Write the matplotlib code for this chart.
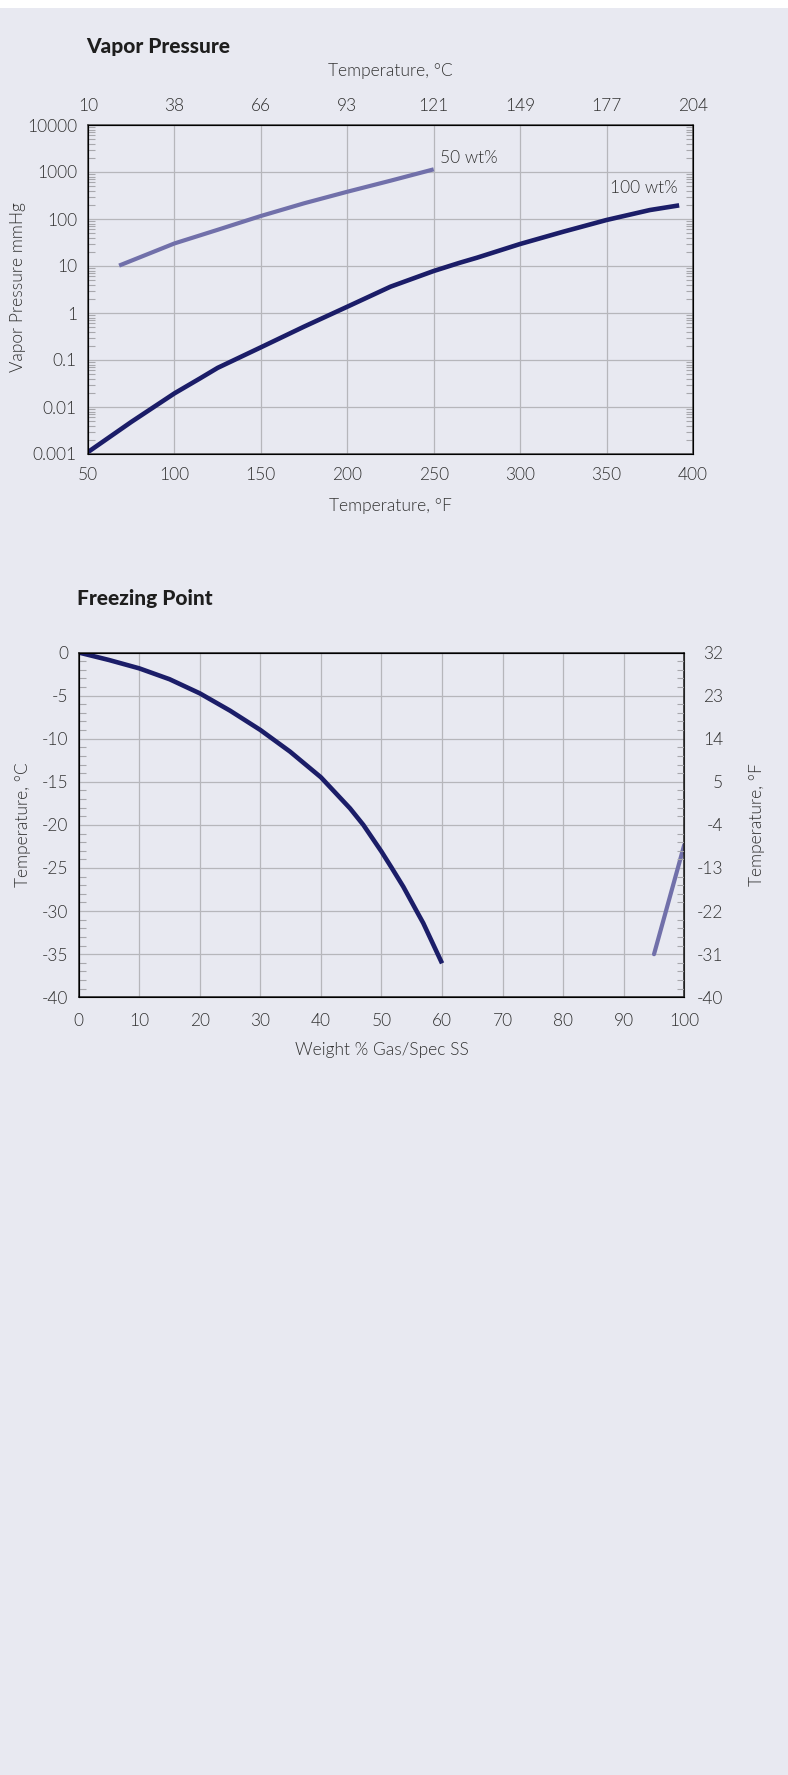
import matplotlib.pyplot as plt
from matplotlib.patches import Rectangle
from matplotlib.ticker import LogLocator, MultipleLocator, NullFormatter

plt.rcParams['font.family'] = ['Lato', 'DejaVu Sans']
plt.rcParams['font.weight'] = 300
plt.rcParams['axes.labelweight'] = 300
plt.rcParams['axes.unicode_minus'] = False

# vapor pressure data
vp_100_F = [50, 75, 100, 115, 125, 150, 175, 200, 225, 250, 265, 275, 300, 325, 350, 375, 392]
vp_100_P = [0.0011, 0.0048, 0.0195, 0.041, 0.068, 0.186, 0.513, 1.36, 3.63, 7.83, 11.7, 15.0,
            29.4, 53.7, 95.3, 155, 195]
vp_50_F = [68, 100, 125, 150, 175, 200, 225, 250]
vp_50_P = [10.2, 30.2, 58.9, 115.9, 215.8, 380, 653, 1140]

vp_F_ticks = [50, 100, 150, 200, 250, 300, 350, 400]
vp_C_labels = ['10', '38', '66', '93', '121', '149', '177', '204']
vp_P_ticks = [0.001, 0.01, 0.1, 1, 10, 100, 1000, 10000]
vp_P_labels = ['0.001', '0.01', '0.1', '1', '10', '100', '1000', '10000']

# freezing point data
fp_wt = [0, 5, 10, 15, 20, 25, 30, 34.9, 40, 44.8, 47.0, 50, 51.7, 53.6, 55.8, 56.9, 60]
fp_T = [0, -0.87, -1.84, -3.1, -4.74, -6.75, -8.99, -11.5, -14.48, -18.08, -20, -23.1, -25,
        -27.17, -30, -31.4, -36.06]
fp_wt_pure = [95, 100]
fp_T_pure = [-35, -22.3]

fp_wt_ticks = list(range(0, 101, 10))
fp_C_ticks = list(range(-40, 1, 5))
fp_F_labels = ['-40', '-31', '-22', '-13', '-4', '5', '14', '23', '32']

bg = '#e8e9f1'
dark = '#1b1d68'
light = '#7170aa'
grid_c = '#b6b6bb'
txt = '#333333'
fs = 12.5

W, H = 788, 1775
fig = plt.figure(figsize=(W / 100, H / 100), dpi=100, facecolor=bg)
fig.add_artist(Rectangle((0, 1 - 8 / H), 1, 8 / H, transform=fig.transFigure,
                         facecolor='white', edgecolor='none'))


def box(l, t, r, b):
    return [l / W, 1 - b / H, (r - l) / W, (b - t) / H]


# ---------- Vapor pressure ----------
ax = fig.add_axes(box(88, 125, 693, 454))
ax.set_facecolor(bg)
ax.set_yscale('log')
ax.set_xlim(50, 400)
ax.set_ylim(0.001, 10000)
ax.plot(vp_100_F, vp_100_P, color=dark, lw=3.3, solid_capstyle='butt', solid_joinstyle='round')
ax.plot(vp_50_F, vp_50_P, color=light, lw=3.0, solid_capstyle='butt', solid_joinstyle='round')
ax.text(253.6, 1950, '50 wt%', fontsize=fs, color=txt, va='center', ha='left')
ax.text(391, 464, '100 wt%', fontsize=fs, color=txt, va='center', ha='right')

ax.set_xticks(vp_F_ticks)
ax.set_yticks(vp_P_ticks, labels=vp_P_labels)
ax.yaxis.set_minor_locator(LogLocator(base=10, subs=range(2, 10)))
ax.yaxis.set_minor_formatter(NullFormatter())
ax.grid(True, which='major', color=grid_c, lw=0.9)
ax.tick_params(which='major', length=0, labelsize=fs, labelcolor=txt)
ax.tick_params(axis='x', pad=9)
ax.tick_params(axis='y', pad=8)
ax.tick_params(axis='y', which='minor', direction='in', left=True, right=True,
               length=5, width=0.8, color='#a8a8ad')
for s in ax.spines.values():
    s.set_color('#444444')
    s.set_linewidth(1.1)

ax_top = ax.twiny()
ax_top.set_xlim(ax.get_xlim())
ax_top.set_xticks(vp_F_ticks, labels=vp_C_labels)
ax_top.tick_params(length=0, labelsize=fs, labelcolor=txt, pad=8)
ax_top.set_xlabel('Temperature, °C', fontsize=fs, color=txt)
ax_top.xaxis.set_label_coords(0.5, (454 - 71) / 329)
ax_top.xaxis.label.set_va('center')

ax.set_xlabel('Temperature, °F', fontsize=fs, color=txt)
ax.xaxis.set_label_coords(0.5, (454 - 506) / 329)
ax.xaxis.label.set_va('center')
ax.set_ylabel('Vapor Pressure mmHg', fontsize=fs, color=txt)
ax.yaxis.set_label_coords((18 - 88) / 605, (454 - 287) / 329)
ax.yaxis.label.set_va('center')

fig.text(86 / W, 1 - 46 / H, 'Vapor Pressure', fontsize=15, fontweight=900,
         color='#1e1e1e', va='center', ha='left')

# ---------- Freezing point ----------
ax2 = fig.add_axes(box(78.7, 652.5, 684.3, 997.3))
ax2.set_facecolor(bg)
ax2.set_xlim(0, 100)
ax2.set_ylim(-40, 0)
ax2.plot(fp_wt, fp_T, color=dark, lw=3.3, solid_capstyle='butt', solid_joinstyle='round')
ax2.plot(fp_wt_pure, fp_T_pure, color=light, lw=3.0, solid_capstyle='round')

ax2.set_xticks(fp_wt_ticks)
ax2.set_yticks(fp_C_ticks)
ax2.yaxis.set_minor_locator(MultipleLocator(1))
ax2.grid(True, which='major', color=grid_c, lw=0.9)
ax2.tick_params(which='major', length=0, labelsize=fs, labelcolor=txt)
ax2.tick_params(axis='x', pad=11)
ax2.tick_params(axis='y', pad=7.7)
ax2.tick_params(axis='y', which='minor', direction='in', length=5, width=0.8,
                color='#a8a8ad')
for s in ax2.spines.values():
    s.set_color('#222222')
    s.set_linewidth(1.1)

ax2r = ax2.twinx()
ax2r.set_ylim(ax2.get_ylim())
ax2r.set_yticks(fp_C_ticks, labels=fp_F_labels)
ax2r.yaxis.set_minor_locator(MultipleLocator(1))
ax2r.tick_params(which='major', length=0, labelsize=fs, labelcolor=txt, pad=28)
ax2r.tick_params(which='minor', direction='in', length=5, width=0.8, color='#a8a8ad')
for lab in ax2r.get_yticklabels():
    lab.set_ha('right')
ax2r.spines['right'].set_color('#222222')

ax2.set_xlabel('Weight % Gas/Spec SS', fontsize=fs, color=txt)
ax2.xaxis.set_label_coords(0.5, (997.3 - 1050) / 344.8)
ax2.xaxis.label.set_va('center')
ax2.set_ylabel('Temperature, °C', fontsize=fs, color=txt)
ax2.yaxis.set_label_coords((23 - 78.7) / 605.6, 0.5)
ax2.yaxis.label.set_va('center')
ax2r.set_ylabel('Temperature, °F', fontsize=fs, color=txt)
ax2r.yaxis.set_label_coords((757 - 78.7) / 605.6, 0.5)
ax2r.yaxis.label.set_va('center')
ax2r.yaxis.label.set_rotation(90)

fig.text(77 / W, 1 - 598 / H, 'Freezing Point', fontsize=15, fontweight=900,
         color='#1e1e1e', va='center', ha='left')

fig.savefig('out.png', dpi=100, facecolor=bg)
